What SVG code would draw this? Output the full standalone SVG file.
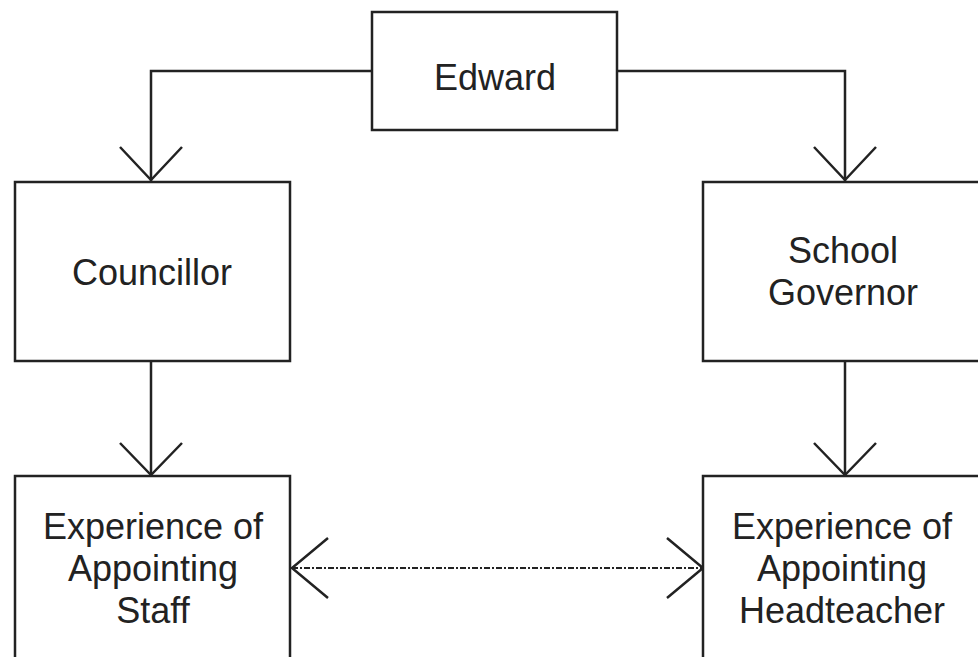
<svg xmlns="http://www.w3.org/2000/svg" width="978" height="657" viewBox="0 0 978 657">
<style>
.box{fill:#fff;stroke:#222;stroke-width:2.5}
.t{font-family:"Liberation Sans",Arial,sans-serif;font-size:36px;fill:#222;text-anchor:middle}
.c{fill:none;stroke:#222;stroke-width:2.5}
.d{fill:none;stroke:#222;stroke-width:2;stroke-dasharray:6 2 2 2}
</style>
<rect width="978" height="657" fill="#fff"/>
<g id="connectors">
<path class="c" d="M372 71H151V181"/>
<path class="c" d="M120 147L151 180L182 147"/>
<path class="c" d="M617 71H845V181"/>
<path class="c" d="M814 147L845 180L876 147"/>
<path class="c" d="M151 361V476"/>
<path class="c" d="M120 443L151 475L182 443"/>
<path class="c" d="M845 361V476"/>
<path class="c" d="M814 443L845 475L876 443"/>
<path class="d" d="M292 568H703"/>
<path class="c" d="M328 538L292 568L328 598"/>
<path class="c" d="M667 538L703 568L667 598"/>
</g>
<g id="edward">
<rect class="box" x="372" y="12" width="245" height="118"/>
<text class="t" x="495" y="90">Edward</text>
</g>
<g id="councillor">
<rect class="box" x="15" y="182" width="275" height="179"/>
<text class="t" x="152" y="285">Councillor</text>
</g>
<g id="school-governor">
<rect class="box" x="703" y="182" width="290" height="179"/>
<text class="t" x="843" y="263">School</text>
<text class="t" x="843" y="305">Governor</text>
</g>
<g id="experience-staff">
<rect class="box" x="15" y="476" width="275" height="200"/>
<text class="t" x="153" y="539">Experience of</text>
<text class="t" x="153" y="581">Appointing</text>
<text class="t" x="153" y="623">Staff</text>
</g>
<g id="experience-headteacher">
<rect class="box" x="703" y="476" width="290" height="200"/>
<text class="t" x="842" y="539">Experience of</text>
<text class="t" x="842" y="581">Appointing</text>
<text class="t" x="842" y="623">Headteacher</text>
</g>
</svg>
